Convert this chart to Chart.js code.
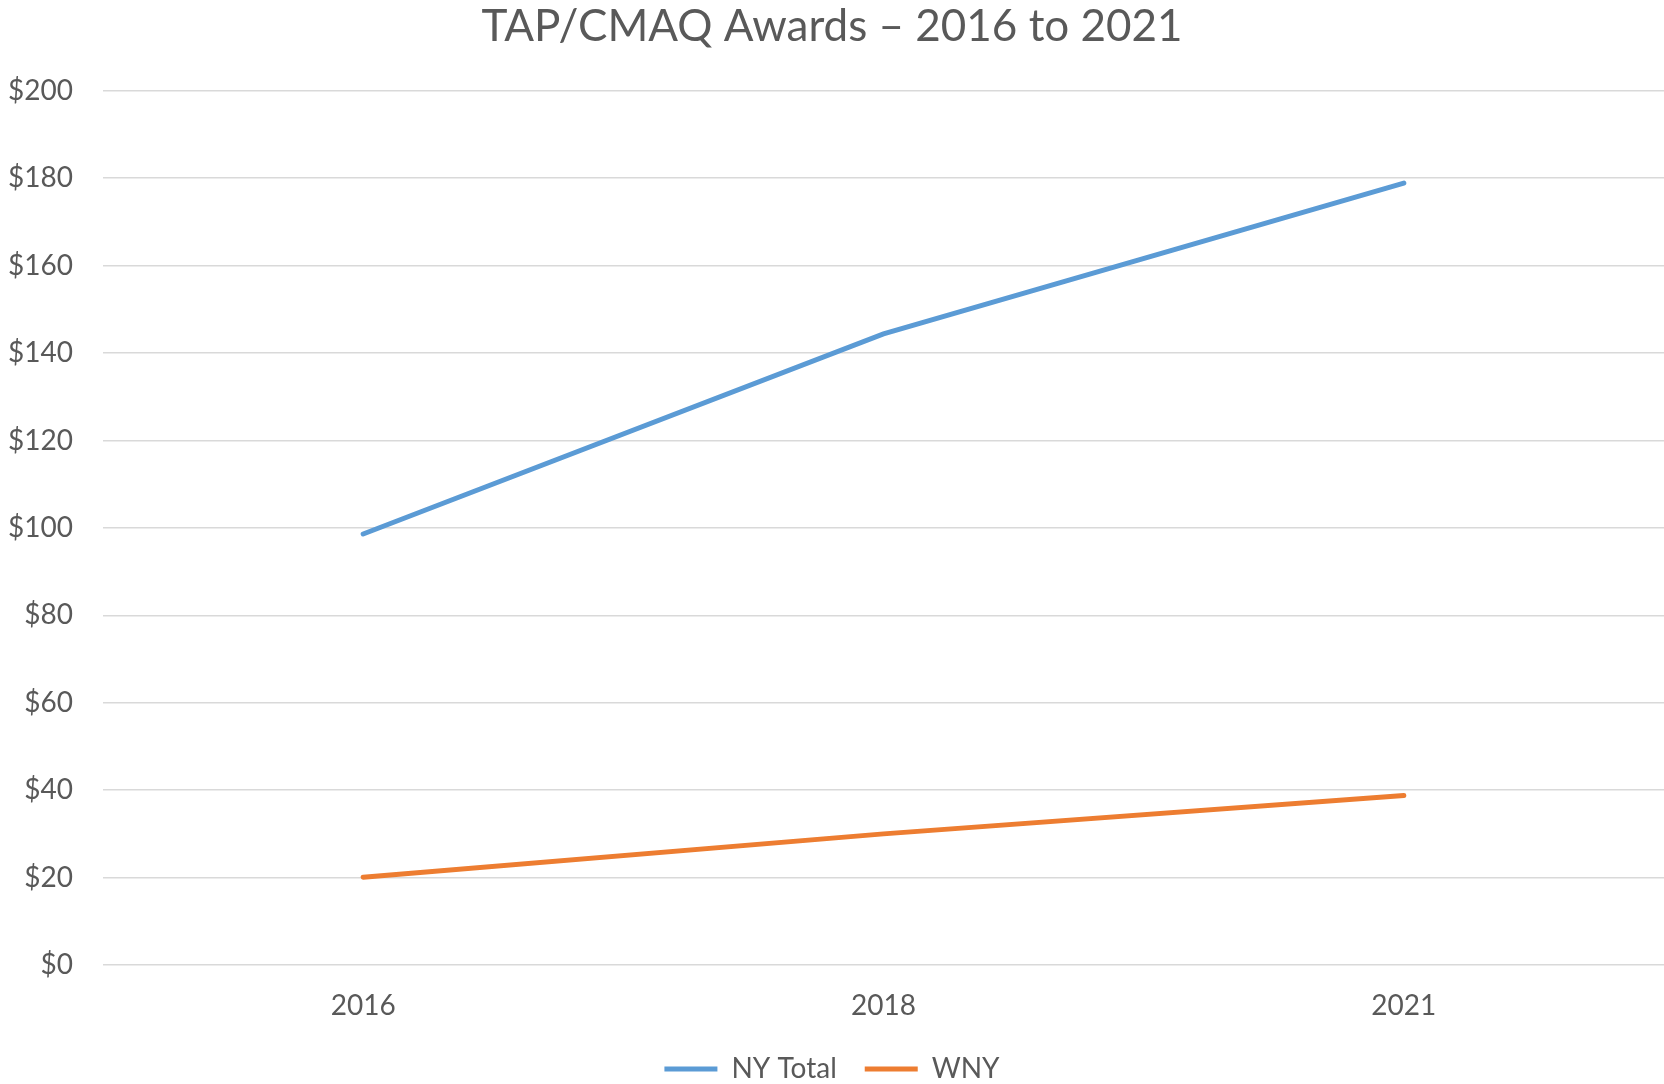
<!DOCTYPE html>
<html>
<head>
<meta charset="utf-8">
<script src="https://cdn.jsdelivr.net/npm/chart.js@4/dist/chart.umd.min.js"></script>
<style>
  html, body { margin: 0; padding: 0; background: #fff; }
  #awardsChart { display: block; }
</style>
</head>
<body>
<canvas id="awardsChart" width="1664" height="1084"></canvas>
<script>
// Award totals in millions of dollars
const years = ['2016', '2018', '2021'];
const nyTotal = [98.6, 144.4, 178.9];
const wny = [20.1, 30.0, 38.8];
const yTicks = [0, 20, 40, 60, 80, 100, 120, 140, 160, 180, 200];

const textColor = '#595959';
const fontFamily = 'Lato, "Open Sans", sans-serif';

const ctx = document.getElementById('awardsChart').getContext('2d');
new Chart(ctx, {
    type: 'line',
    data: {
        labels: years,
        datasets: [{
            label: 'NY Total',
            data: nyTotal,
            borderColor: '#5B9BD5',
            backgroundColor: '#5B9BD5',
            borderWidth: 5,
            borderCapStyle: 'round',
            pointRadius: 0,
            tension: 0
        }, {
            label: 'WNY',
            data: wny,
            borderColor: '#ED7D31',
            backgroundColor: '#ED7D31',
            borderWidth: 5,
            borderCapStyle: 'round',
            pointRadius: 0,
            tension: 0
        }]
    },
    options: {
        responsive: false,
        animation: false,
        // negative bottom padding lets the legend sit close to the canvas edge
        layout: { padding: { left: 0, right: 0, top: 0, bottom: -9 } },
        scales: {
            x: {
                offset: true,
                grid: { display: false, drawTicks: false },
                border: { display: false },
                ticks: {
                    color: textColor,
                    padding: 24,
                    font: { family: fontFamily, size: 28 }
                },
                afterFit: (scale) => { scale.height = 62; }
            },
            y: {
                min: 0,
                max: 200,
                afterBuildTicks: (scale) => {
                    scale.ticks = yTicks.map(v => ({ value: v }));
                },
                grid: { color: '#D9D9D9', lineWidth: 1.5, drawTicks: false },
                border: { display: false },
                ticks: {
                    color: textColor,
                    padding: 30,
                    font: { family: fontFamily, size: 28 },
                    callback: (v) => '$' + v
                },
                afterFit: (scale) => { scale.width = 103; }
            }
        },
        plugins: {
            title: {
                display: true,
                text: 'TAP/CMAQ Awards \u2013 2016 to 2021',
                color: textColor,
                font: { family: fontFamily, size: 44, weight: 'normal' },
                padding: { top: 0, bottom: 38 }
            },
            legend: {
                position: 'bottom',
                labels: {
                    color: textColor,
                    font: { family: fontFamily, size: 28 },
                    usePointStyle: true,
                    pointStyle: 'line',
                    pointStyleWidth: 53,
                    padding: 28
                }
            },
            tooltip: { enabled: false }
        }
    }
});
</script>
</body>
</html>
